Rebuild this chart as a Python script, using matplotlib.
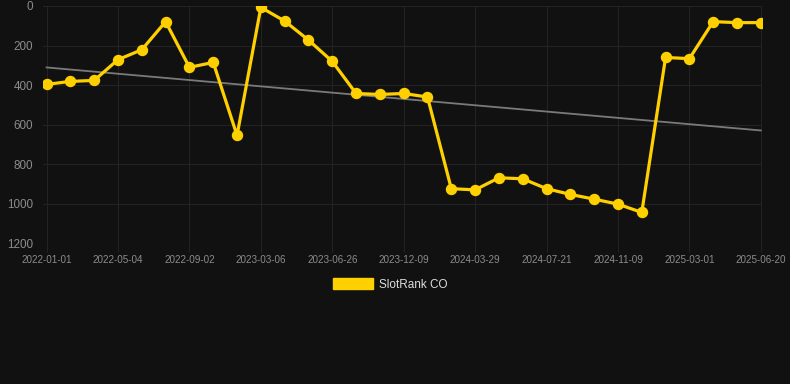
import numpy as np
import matplotlib
matplotlib.use("Agg")
import matplotlib.pyplot as plt
from matplotlib.patches import Patch

plt.rcParams['font.family'] = ['Liberation Sans', 'DejaVu Sans']

tick_labels = ["2022-01-01", "2022-05-04", "2022-09-02", "2023-03-06", "2023-06-26",
               "2023-12-09", "2024-03-29", "2024-07-21", "2024-11-09", "2025-03-01",
               "2025-06-20"]
ranks = [396, 381, 376, 271, 221, 79, 310, 285, 654, 7,
         76, 172, 280, 442, 447, 442, 460, 923, 929, 868,
         873, 923, 952, 976, 1001, 1043, 260, 266, 79, 84, 84]
series_name = "SlotRank CO"

BG = "#111111"
GOLD = "#FFD000"
GRID = "#232323"
TICK = "#8c8c8c"

fig = plt.figure(figsize=(7.9, 3.84), dpi=100, facecolor=BG)
ax = fig.add_axes([43/790, 1-243.5/384, (762-43)/790, (243.5-6)/384])
ax.set_facecolor(BG)

x = np.arange(len(ranks))
ax.plot(x, ranks, color=GOLD, lw=2.3, marker="o", ms=7.2, zorder=3)

# linear trend
coef = np.polyfit(x, ranks, 1)
ax.plot(x, np.polyval(coef, x), color="#7a7a7a", lw=1.3, zorder=2)

ax.set_ylim(1200, 0)
ax.set_xlim(-0.15, len(ranks) - 1 + 0.05)
ax.set_yticks(np.arange(0, 1201, 200))
ax.set_xticks(x[::3])
ax.set_xticklabels(tick_labels)

ax.grid(True, color=GRID, lw=0.8)
ax.set_axisbelow(True)
for s in ax.spines.values():
    s.set_visible(False)
ax.tick_params(axis="y", length=0, pad=7, labelsize=8.4, colors=TICK)
ax.tick_params(axis="x", length=6, width=0.8, color=GRID, pad=2, labelsize=7.1, colors=TICK)

handle = Patch(facecolor=GOLD, edgecolor=GOLD)
fig.legend([handle], [series_name], loc="center", bbox_to_anchor=(390/790, 1-284.5/384),
           frameon=False, fontsize=8.5, labelcolor="#dddddd",
           handlelength=3.4, handleheight=1.0, handletextpad=0.5)

fig.savefig("out.png", dpi=100, facecolor=BG)
